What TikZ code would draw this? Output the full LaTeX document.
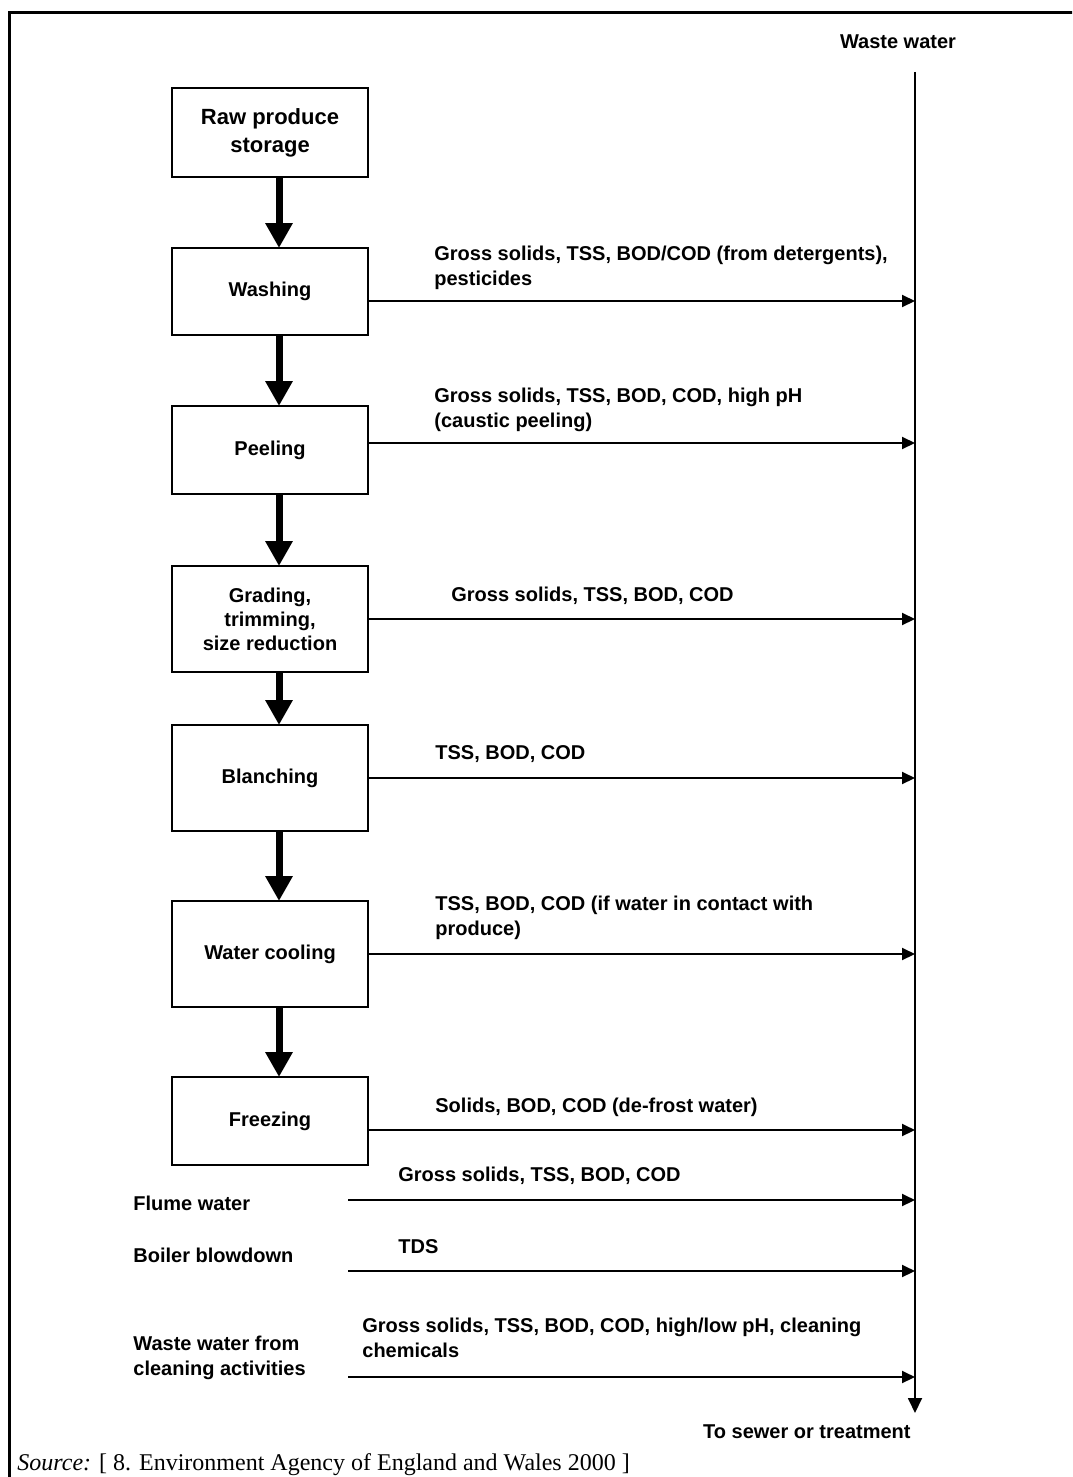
\documentclass[tikz,border=0pt]{standalone}
\usepackage{fontspec}
\setmainfont{Liberation Sans}
\newfontfamily\srcfont{Liberation Serif}
\usetikzlibrary{positioning,arrows.meta}

\begin{document}
\begin{tikzpicture}[
  x=0.5pt,y=-0.5pt,
  node distance=35.5pt,
  stage/.style={draw,line width=1pt,outer sep=0pt,align=center,minimum width=98pt,minimum height=44pt,inner sep=2pt,font=\bfseries\fontsize{10}{12}\selectfont},
  lbl/.style={align=left,inner sep=0pt,font=\bfseries\fontsize{10}{12.5}\selectfont},
  flow/.style={-{Triangle[length=12.5pt,width=13pt]},line width=3.5pt},
  waste/.style={-{Triangle[length=6.5pt,width=6pt]},line width=1pt},
  drainarr/.style={-{Triangle[length=7.5pt,width=7pt]},line width=0.9pt}]
\clip (0,0) rectangle (1072,1477);
\draw[line width=1.5pt] (9,1490) -- (9,13) -- (1080,13);
% process stages
\node[stage,minimum height=44.5pt,font=\bfseries\fontsize{11}{13}\selectfont] (raw) at (270,132.5) {Raw produce\\[1pt]storage};
\node[stage,minimum height=43.5pt,below=of raw] (wash) {Washing};
\node[stage,below=of wash] (peel) {Peeling};
\node[stage,minimum height=53pt,below=36pt of peel] (grade) {Grading,\\trimming,\\size reduction};
\node[stage,minimum height=53pt,below=26.5pt of grade] (blanch) {Blanching};
\node[stage,minimum height=53pt,below=35pt of blanch] (cool) {Water cooling};
\node[stage,below=35pt of cool] (freeze) {Freezing};
\draw[flow] ([xshift=4.5pt]raw.south) -- ([xshift=4.5pt]wash.north);
\draw[flow] ([xshift=4.5pt]wash.south) -- ([xshift=4.5pt]peel.north);
\draw[flow] ([xshift=4.5pt]peel.south) -- ([xshift=4.5pt]grade.north);
\draw[flow] ([xshift=4.5pt]grade.south) -- ([xshift=4.5pt]blanch.north);
\draw[flow] ([xshift=4.5pt]blanch.south) -- ([xshift=4.5pt]cool.north);
\draw[flow] ([xshift=4.5pt]cool.south) -- ([xshift=4.5pt]freeze.north);
% waste water main line
\coordinate (drain) at (915,72);
\coordinate (sewer) at (915,1413);
\draw[drainarr] (drain) -- (sewer);
\node[lbl] (wwtop) at (898,42) {Waste water};
\node[lbl,anchor=east] (wwbot) at (911,1432) {To sewer or treatment};
% waste streams
\draw[waste] ([yshift=-4.75pt]wash.east) -- ([yshift=-4.75pt]wash.east -| drain);
\draw[waste] ([yshift=3.5pt]peel.east) -- ([yshift=3.5pt]peel.east -| drain);
\draw[waste] (grade.east) -- (grade.east -| drain);
\draw[waste] (blanch.east) -- (blanch.east -| drain);
\draw[waste] (cool.east) -- (cool.east -| drain);
\draw[waste] ([yshift=-4.5pt]freeze.east) -- ([yshift=-4.5pt]freeze.east -| drain);
\node[lbl,anchor=base west] (l1) at (434,285) {Gross solids, TSS, BOD/COD (from detergents),\\pesticides};
\node[lbl,anchor=base west] (l2) at (434,427) {Gross solids, TSS, BOD, COD, high pH\\(caustic peeling)};
\node[lbl,anchor=base west] (l3) at (451,601) {Gross solids, TSS, BOD, COD};
\node[lbl,anchor=base west] (l4) at (435,759) {TSS, BOD, COD};
\node[lbl,anchor=base west] (l5) at (435,935) {TSS, BOD, COD (if water in contact with\\produce)};
\node[lbl,anchor=base west] (l6) at (435,1112) {Solids, BOD, COD (de-frost water)};
% other sources
\node[lbl,anchor=base west] (flume) at (133,1210) {Flume water};
\node[lbl,anchor=base west] (boiler) at (133,1262) {Boiler blowdown};
\node[lbl,anchor=base west] (cleaning) at (133,1375) {Waste water from\\cleaning activities};
\coordinate (fl) at (348,1200);
\coordinate (bl) at (348,1271);
\coordinate (cl) at (348,1377);
\draw[waste] (fl) -- (fl -| drain);
\draw[waste] (bl) -- (bl -| drain);
\draw[waste] (cl) -- (cl -| drain);
\node[lbl,anchor=base west] (l7) at (398,1181) {Gross solids, TSS, BOD, COD};
\node[lbl,anchor=base west] (l8) at (398,1253) {TDS};
\node[lbl,anchor=base west] (l9) at (362,1357) {Gross solids, TSS, BOD, COD, high/low pH, cleaning\\chemicals};
\node[anchor=base west,inner sep=0pt,font=\srcfont\fontsize{12}{14}\selectfont] (src) at (17,1470) {\textit{Source:} [ 8. Environment Agency of England and Wales 2000 ]};
\end{tikzpicture}
\end{document}
